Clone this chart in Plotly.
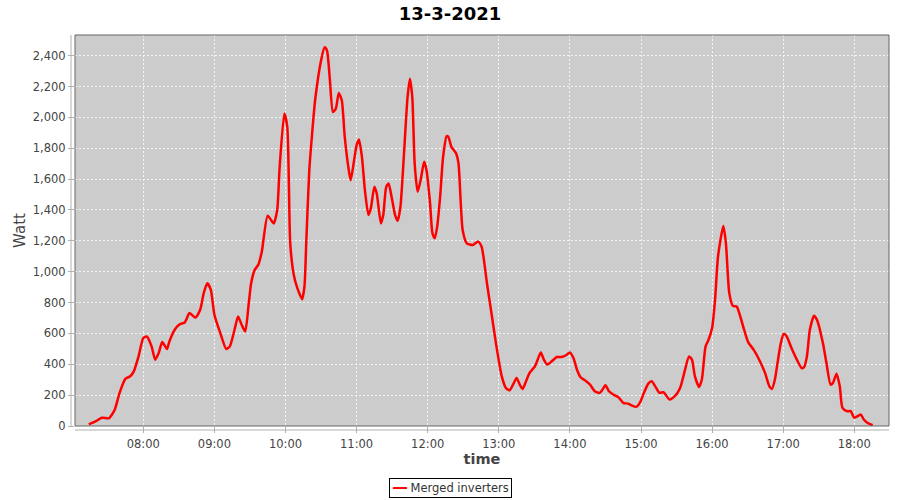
import plotly.graph_objects as go

DAY = "2021-03-13"
times = ["07:14", "07:20", "07:25", "07:31", "07:33", "07:36", "07:40", "07:45", "07:49", "07:52",
         "07:56", "08:00", "08:03", "08:07", "08:10", "08:13", "08:16", "08:20", "08:22", "08:27",
         "08:31", "08:35", "08:39", "08:44", "08:48", "08:51", "08:54", "08:57", "09:00", "09:05",
         "09:10", "09:13", "09:17", "09:20", "09:23", "09:26", "09:29", "09:31", "09:34", "09:37",
         "09:40", "09:45", "09:50", "09:53", "09:55", "09:59", "10:01:30", "10:04", "10:07", "10:10",
         "10:14", "10:16", "10:17:30", "10:20", "10:22", "10:25", "10:30", "10:33", "10:35", "10:37:30",
         "10:40", "10:42:30", "10:45", "10:47:30", "10:50", "10:53", "10:55", "10:57:30", "11:00", "11:02",
         "11:04:30", "11:07", "11:10", "11:12", "11:15", "11:17", "11:20:30", "11:22:30", "11:25", "11:27",
         "11:29:30", "11:32:30", "11:34:40", "11:37", "11:40", "11:43", "11:45", "11:47", "11:49", "11:51:30",
         "11:54", "11:57", "11:59", "12:02", "12:04", "12:06", "12:08", "12:10:30", "12:13", "12:16",
         "12:17:30", "12:20", "12:24", "12:26", "12:29:30", "12:33", "12:38", "12:42:30", "12:45:30", "12:50",
         "12:54", "12:58", "13:02:30", "13:06", "13:09", "13:12", "13:15", "13:17:40", "13:20", "13:23",
         "13:26", "13:30:30", "13:33:20", "13:35:30", "13:38", "13:41", "13:44:40", "13:49", "13:53", "13:57:20",
         "14:00", "14:03", "14:06", "14:09", "14:12:40", "14:17", "14:21", "14:25", "14:27:30", "14:30",
         "14:33", "14:36:30", "14:41", "14:45", "14:49", "14:52", "14:56", "14:59", "15:02:30", "15:06",
         "15:09", "15:12", "15:15:30", "15:19", "15:24", "15:28:30", "15:33", "15:36:30", "15:40:30", "15:43",
         "15:45:30", "15:49", "15:51:20", "15:54:30", "15:57", "16:00", "16:02:30", "16:05", "16:09:30", "16:11:40",
         "16:14:30", "16:17:30", "16:20:45", "16:23:20", "16:27", "16:30:30", "16:35", "16:39", "16:44:40", "16:48:20",
         "16:50:30", "16:53", "16:55", "16:58", "17:00:30", "17:03", "17:07", "17:11:30", "17:15:30", "17:17:30",
         "17:20", "17:22:30", "17:26", "17:28:30", "17:33:30", "17:36:30", "17:40", "17:42", "17:45", "17:47:45",
         "17:50", "17:54", "17:57", "18:00", "18:05:30", "18:08", "18:12", "18:15:30"]
watts = [10, 31, 53, 50, 68, 107, 215, 307, 322, 354,
         451, 570, 580, 516, 430, 473, 544, 499, 548, 630,
         660, 671, 732, 703, 753, 861, 925, 882, 721, 602,
         499, 516, 624, 710, 656, 613, 796, 925, 1012, 1044,
         1130, 1363, 1313, 1400, 1669, 2025, 1938, 1184, 979, 893,
         822, 904, 1184, 1647, 1852, 2111, 2369, 2455, 2434, 2240,
         2035, 2057, 2158, 2111, 1873, 1679, 1593, 1701, 1820, 1857,
         1744, 1529, 1367, 1410, 1550, 1507, 1313, 1367, 1550, 1572,
         1486, 1367, 1330, 1421, 1766, 2132, 2251, 2132, 1701, 1518,
         1593, 1712, 1658, 1443, 1249, 1217, 1292, 1486, 1744, 1878,
         1873, 1809, 1766, 1701, 1270, 1184, 1173, 1195, 1162, 925,
         721, 516, 322, 247, 231, 268, 311, 268, 240, 290,
         344, 387, 441, 477, 430, 398, 419, 447, 447, 462,
         477, 441, 365, 316, 296, 268, 225, 214, 236, 264,
         225, 204, 186, 150, 145, 134, 124, 150, 215, 273,
         290, 257, 215, 219, 172, 193, 247, 344, 451, 430,
         322, 253, 301, 516, 559, 635, 818, 1098, 1296, 1184,
         861, 779, 774, 721, 624, 542, 495, 441, 344, 257,
         240, 301, 398, 538, 598, 580, 505, 430, 376, 380,
         451, 624, 714, 688, 538, 408, 268, 279, 339, 257,
         118, 96, 96, 53, 74, 42, 16, 5]

series_name = "Merged inverters"
chart_title = "13-3-2021"
x_title = "time"
y_title = "Watt"
x_ticks = ["08:00", "09:00", "10:00", "11:00", "12:00", "13:00", "14:00", "15:00", "16:00", "17:00", "18:00"]
y_ticks = list(range(0, 2401, 200))

xs = [f"{DAY} {t}" + (":00" if t.count(":") == 1 else "") for t in times]

fig = go.Figure()
fig.add_trace(go.Scatter(
    x=xs, y=watts, mode="lines", name=series_name, showlegend=False,
    line=dict(color="#ff0000", width=2.5, shape="spline", smoothing=0.6),
))

font_family = "DejaVu Sans"
tick_font = dict(family=font_family, size=11.5, color="#444444")

PW, PH = 814, 391  # plot area size in px

fig.update_layout(
    width=900, height=500,
    margin=dict(l=75, r=11, t=35, b=74),
    paper_bgcolor="#ffffff",
    plot_bgcolor="#cccccc",
    title=dict(text=f"<b>{chart_title}</b>", x=0.5, xanchor="center", xref="container",
               y=1 - 14 / 500, yanchor="middle", yref="container",
               font=dict(family=font_family, size=18, color="#000000")),
    showlegend=False,
    xaxis=dict(
        type="date", automargin=False,
        range=[f"{DAY} 07:02:22", f"{DAY} 18:29:17"],
        tickvals=[f"{DAY} {t}:00" for t in x_ticks],
        ticktext=x_ticks,
        showgrid=True, gridcolor="#f4f4f4", gridwidth=1, griddash="2px,2px",
        zeroline=False, showline=False,
        ticks="outside", ticklen=6, tickcolor="#b0b0b0", ticklabelstandoff=1,
        tickfont=tick_font,
        title=dict(text=f"<b>{x_title}</b>", standoff=4,
                   font=dict(family=font_family, size=14.5, color="#444444")),
    ),
    yaxis=dict(
        automargin=False,
        range=[0, 2534],
        tickvals=y_ticks,
        ticktext=[f"{v:,}" for v in y_ticks],
        showgrid=True, gridcolor="#f4f4f4", gridwidth=1, griddash="2px,2px",
        zeroline=False, showline=False,
        ticks="outside", ticklen=6, tickcolor="#b0b0b0",
        tickfont=tick_font,
        title=dict(text=y_title, standoff=3,
                   font=dict(family=font_family, size=15, color="#444444")),
    ),
    shapes=[
        dict(type="rect", xref="paper", yref="paper", x0=0, x1=1, y0=0, y1=1,
             line=dict(color="#666666", width=1), fillcolor="rgba(0,0,0,0)", layer="above"),
        dict(type="line", xref="paper", yref="paper", x0=-4 / PW, x1=-4 / PW, y0=0, y1=1,
             line=dict(color="#b0b0b0", width=1)),
        dict(type="line", xref="paper", yref="paper", x0=0, x1=1, y0=-4 / PH, y1=-4 / PH,
             line=dict(color="#b0b0b0", width=1)),
    ],
    annotations=[
        dict(text=f"<span style='color:#ff0000'>━━</span> {series_name}",
             xref="paper", yref="paper", x=(450 - 75) / PW, y=(426 - 488) / PH,
             xanchor="center", yanchor="middle", showarrow=False,
             bordercolor="#000000", borderwidth=1, borderpad=2, bgcolor="#ffffff",
             font=dict(family=font_family, size=11.5, color="#333333")),
    ],
)

fig.write_html("out.html", config={"displayModeBar": False},
               post_script="document.body.style.margin='0';")
